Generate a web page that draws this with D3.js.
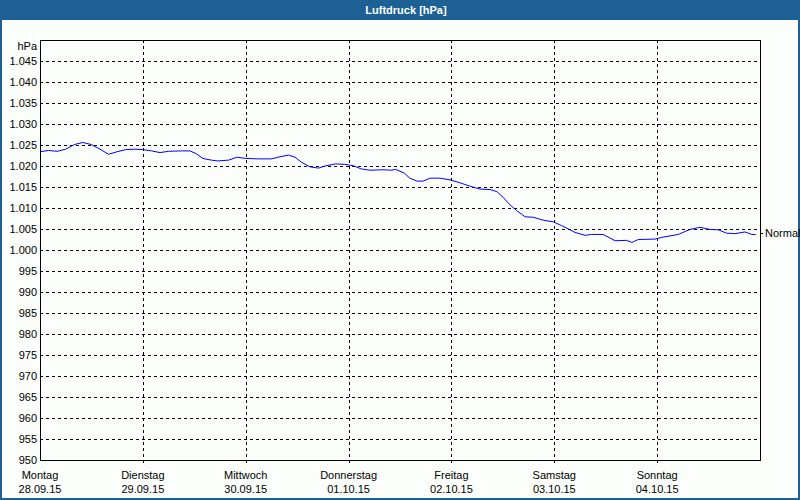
<!DOCTYPE html>
<html>
<head>
    <meta charset="utf-8">
    <title>Luftdruck</title>
    <script src="https://d3js.org/d3.v7.min.js"></script>
    <style>
        body { margin: 0; background: #fff; }
        text { font-family: "Liberation Sans", Arial, sans-serif; font-size: 11px; fill: #000; }
        .grid line { stroke: #000; stroke-dasharray: 3,3; shape-rendering: crispEdges; }
        .frame { fill: none; stroke: #000; shape-rendering: crispEdges; }
    </style>
</head>
<body>
<div id="chart"></div>
<script>
    // Daten: Stunden ab Montag 28.09.15 00:00 und Luftdruck in hPa
    const hours = [0, 2, 4, 6, 8, 10, 12, 14, 16, 18, 20, 22, 24, 26, 28, 30, 33, 35, 36.5, 38,
        40, 41.5, 44, 46, 48, 51, 54, 56, 58, 59.5, 61, 63, 65, 66.5, 69, 71, 73, 75, 77, 80,
        82, 83, 85, 86.3, 88, 89.4, 91, 93.3, 95.7, 98, 100.3, 102.7, 105, 106.6, 108.1, 109.7,
        111.2, 113.2, 115.1, 117.4, 119.8, 121.7, 123.7, 124.8, 127.2, 128.7, 131.4, 134.2,
        136.9, 138.1, 139.6, 143.5, 145.1, 148.9, 151.7, 154, 156.3, 158.3, 160.2, 162.2,
        164.5, 166.1, 167];
    const pressure = [1023.4, 1023.7, 1023.5, 1024.0, 1025.1, 1025.6, 1025.1, 1024.0, 1022.8,
        1023.4, 1023.9, 1024.0, 1023.9, 1023.6, 1023.2, 1023.5, 1023.6, 1023.6, 1022.9, 1021.8,
        1021.4, 1021.2, 1021.4, 1022.1, 1021.8, 1021.7, 1021.7, 1022.2, 1022.6, 1022.1, 1020.9,
        1019.8, 1019.5, 1020.0, 1020.5, 1020.4, 1020.1, 1019.3, 1019.0, 1019.1, 1019.0, 1019.2,
        1018.3, 1017.1, 1016.4, 1016.4, 1017.1, 1017.1, 1016.7, 1016.0, 1015.2, 1014.5, 1014.4,
        1013.9, 1012.5, 1010.7, 1009.4, 1007.9, 1007.8, 1007.1, 1006.7, 1005.8, 1004.8, 1004.2,
        1003.5, 1003.7, 1003.7, 1002.2, 1002.3, 1001.8, 1002.5, 1002.6, 1003.0, 1003.7, 1004.9,
        1005.4, 1004.9, 1004.8, 1004.0, 1003.9, 1004.3, 1003.7, 1003.7];

    const dayNames = ["Montag", "Dienstag", "Mittwoch", "Donnerstag", "Freitag", "Samstag", "Sonntag"];
    const dayDates = ["28.09.15", "29.09.15", "30.09.15", "01.10.15", "02.10.15", "03.10.15", "04.10.15"];
    const yTicks = [950, 955, 960, 965, 970, 975, 980, 985, 990, 995, 1000, 1005, 1010,
        1015, 1020, 1025, 1030, 1035, 1040, 1045];
    const normalValue = 1004;

    const W = 800, H = 500;
    const margin = {top: 40, right: 40, bottom: 40, left: 40},
        width = W - margin.left - margin.right,
        height = H - margin.top - margin.bottom;

    const x = d3.scaleLinear().domain([0, 168]).range([0, width]);
    const y = d3.scaleLinear().domain([950, 1050]).range([height, 0]);

    const fmt = v => v >= 1000 ? d3.format(",")(v).replace(",", ".") : String(v);

    const svg = d3.select("#chart").append("svg")
        .attr("width", W)
        .attr("height", H);

    // Hintergrund und Rahmen
    svg.append("rect").attr("width", W).attr("height", H).attr("fill", "#1d6093");
    svg.append("rect").attr("x", 2).attr("y", 20).attr("width", W - 4).attr("height", H - 22)
        .attr("fill", "#fbfefb");

    svg.append("text")
        .attr("x", 406).attr("y", 14)
        .attr("text-anchor", "middle")
        .style("font-weight", "bold")
        .style("fill", "#fff")
        .text("Luftdruck [hPa]");

    const g = svg.append("g")
        .attr("transform", "translate(" + margin.left + "," + margin.top + ")");

    // Horizontale Gitterlinien
    g.append("g").attr("class", "grid")
        .selectAll("line")
        .data(yTicks.filter(d => d > 950))
        .enter().append("line")
        .attr("x1", 0).attr("x2", width)
        .attr("y1", d => Math.round(y(d)) + 0.5)
        .attr("y2", d => Math.round(y(d)) + 0.5);

    // Vertikale Gitterlinien (mit Strich unter der Achse)
    g.append("g").attr("class", "grid")
        .selectAll("line")
        .data(d3.range(1, 7))
        .enter().append("line")
        .attr("x1", d => Math.round(x(d * 24)) + 0.5)
        .attr("x2", d => Math.round(x(d * 24)) + 0.5)
        .attr("y1", 0).attr("y2", height + 4);

    // Y-Beschriftung
    g.append("g")
        .selectAll("text")
        .data(yTicks)
        .enter().append("text")
        .attr("x", -3)
        .attr("y", d => y(d))
        .attr("dy", "0.35em")
        .attr("text-anchor", "end")
        .text(fmt);

    g.append("text")
        .attr("x", -3).attr("y", 6)
        .attr("dy", "0.35em")
        .attr("text-anchor", "end")
        .text("hPa");

    // X-Beschriftung
    const xl = g.append("g")
        .selectAll("g")
        .data(dayNames)
        .enter().append("g")
        .attr("transform", (d, i) => "translate(" + x(i * 24) + "," + height + ")");
    xl.append("text").attr("y", 19).attr("text-anchor", "middle").text(d => d);
    xl.append("text").attr("y", 33).attr("text-anchor", "middle").text((d, i) => dayDates[i]);

    // Luftdruck-Linie
    const line = d3.line()
        .x((d, i) => x(hours[i]))
        .y(d => y(d));
    g.append("path")
        .datum(pressure)
        .attr("fill", "none")
        .attr("stroke", "#0000ff")
        .attr("stroke-width", 1)
        .attr("d", line);

    // Rahmen
    g.append("rect").attr("class", "frame")
        .attr("x", 0.5).attr("y", 0.5)
        .attr("width", width).attr("height", height);

    // Normalwert rechts
    const yn = Math.round(y(normalValue)) + 0.5;
    g.append("line")
        .attr("x1", width).attr("x2", width + 3)
        .attr("y1", yn).attr("y2", yn)
        .attr("stroke", "#000");
    g.append("text")
        .attr("x", width + 5).attr("y", yn)
        .attr("dy", "0.35em")
        .text("Normal");
</script>
</body>
</html>
